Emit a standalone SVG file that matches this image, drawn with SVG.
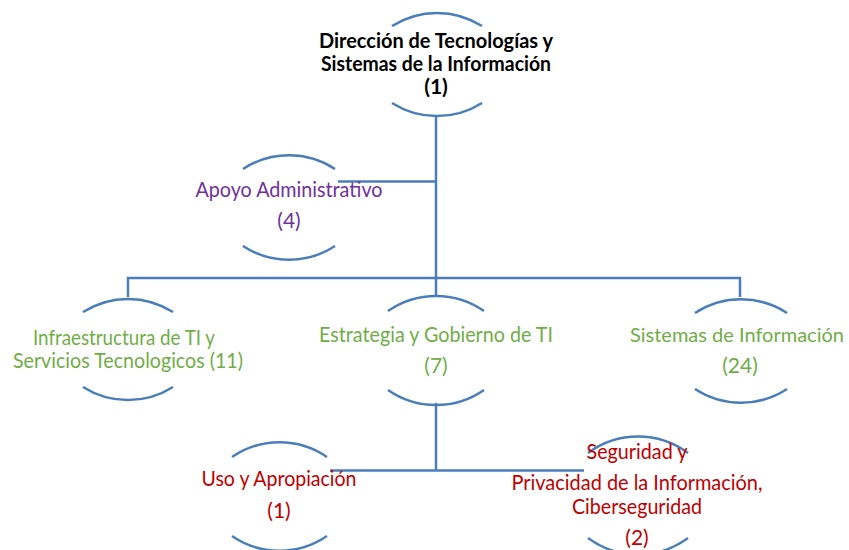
<svg xmlns="http://www.w3.org/2000/svg" width="849" height="550" viewBox="0 0 849 550">
<style>
.arc{fill:none;stroke:#4a7ebb;stroke-width:2.5;stroke-linecap:butt}
.con{fill:none;stroke:#4a7ebb;stroke-width:2.5}
text{font-family:Lato,"Open Sans","Liberation Sans",sans-serif;font-size:21px;text-anchor:middle}
.t{font-weight:bold;fill:#000}
.g{fill:#70ad47}
.p{fill:#7030a0}
.r{fill:#c00000}
</style>
<rect width="849" height="550" fill="#fff"/>
<g id="connectors">
<path class="con" d="M436,116 V278"/>
<path class="con" d="M338,181.5 H436"/>
<path class="con" d="M128,297 V278 H740 V297"/>
<path class="con" d="M436,278 V297"/>
<path class="con" d="M436,403 V471"/>
<path class="con" d="M330,470.5 H584"/>
</g>
<g id="n1">
<path class="arc" d="M392,26 A84,84 0 0 1 482,26"/>
<path class="arc" d="M392,103 A84,84 0 0 0 482,103"/>
<text class="t" x="436" y="48" textLength="234" lengthAdjust="spacingAndGlyphs">Dirección de Tecnologías y</text>
<text class="t" x="436" y="71" textLength="230" lengthAdjust="spacingAndGlyphs">Sistemas de la Información</text>
<text class="t" x="436" y="94">(1)</text>
</g>
<g id="n2">
<path class="arc" d="M243,169 A84,84 0 0 1 335,169"/>
<path class="arc" d="M243,246 A84,84 0 0 0 335,246"/>
<text class="p" x="289" y="197" textLength="187" lengthAdjust="spacingAndGlyphs">Apoyo Administrativo</text>
<text class="p" x="289" y="228">(4)</text>
</g>
<g id="n3">
<path class="arc" d="M83,312 A84,84 0 0 1 173,312"/>
<path class="arc" d="M83,387 A84,84 0 0 0 173,387"/>
<text class="g" x="124" y="345" textLength="182" lengthAdjust="spacingAndGlyphs">Infraestructura de TI y</text>
<text class="g" x="128" y="368" textLength="230" lengthAdjust="spacingAndGlyphs">Servicios Tecnologicos (11)</text>
</g>
<g id="n4">
<path class="arc" d="M388,311 A84,84 0 0 1 484,311"/>
<path class="arc" d="M388,390 A84,84 0 0 0 484,390"/>
<text class="g" x="436" y="342" textLength="234" lengthAdjust="spacingAndGlyphs">Estrategia y Gobierno de TI</text>
<text class="g" x="436" y="373">(7)</text>
</g>
<g id="n5">
<path class="arc" d="M695,313 A84,84 0 0 1 787,313"/>
<path class="arc" d="M695,389 A84,84 0 0 0 787,389"/>
<text class="g" x="737" y="342" style="font-size:20px">Sistemas de Información</text>
<text class="g" x="740" y="373">(24)</text>
</g>
<g id="n6">
<path class="arc" d="M232,457 A84,84 0 0 1 327,457"/>
<path class="arc" d="M232,536 A84,84 0 0 0 327,536"/>
<text class="r" x="279" y="486" textLength="155" lengthAdjust="spacingAndGlyphs">Uso y Apropiación</text>
<text class="r" x="279" y="518">(1)</text>
</g>
<g id="n7">
<path class="arc" d="M588,453 A84,84 0 0 1 688,453"/>
<path class="arc" d="M588,538 A84,84 0 0 0 688,538"/>
<text class="r" x="637" y="459" textLength="101" lengthAdjust="spacingAndGlyphs">Seguridad y</text>
<text class="r" x="637" y="490" textLength="251" lengthAdjust="spacingAndGlyphs">Privacidad de la Información,</text>
<text class="r" x="637" y="514" textLength="130" lengthAdjust="spacingAndGlyphs">Ciberseguridad</text>
<text class="r" x="637" y="545">(2)</text>
</g>
</svg>
